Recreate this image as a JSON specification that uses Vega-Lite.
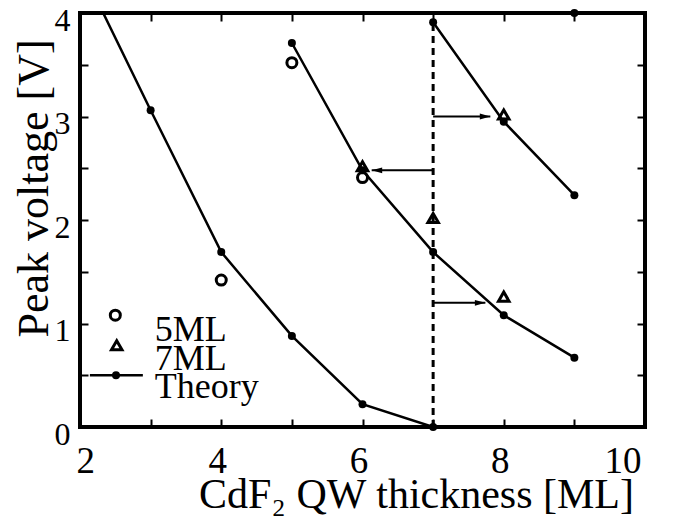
{
  "$schema": "https://vega.github.io/schema/vega-lite/v6.json",
  "width": 565,
  "height": 414,
  "autosize": {"type": "none"},
  "padding": {"left": 80, "top": 13, "right": 30, "bottom": 99},
  "background": "white",
  "config": {
    "font": "Liberation Serif",
    "view": {"stroke": "black", "strokeWidth": 4},
    "axis": {
      "domain": false,
      "grid": false,
      "tickColor": "black",
      "tickWidth": 2,
      "labelFont": "Liberation Serif",
      "labelColor": "black",
      "titleFont": "Liberation Serif",
      "titleFontWeight": "normal",
      "titleColor": "black"
    }
  },
  "datasets": {
    "theory": [
      {"curve": "A", "x": 2, "y": 4.46},
      {"curve": "A", "x": 3, "y": 3.06},
      {"curve": "A", "x": 4, "y": 1.69},
      {"curve": "A", "x": 5, "y": 0.88},
      {"curve": "A", "x": 6, "y": 0.22},
      {"curve": "A", "x": 7, "y": 0.0},
      {"curve": "B", "x": 5, "y": 3.71},
      {"curve": "B", "x": 6, "y": 2.48},
      {"curve": "B", "x": 7, "y": 1.69},
      {"curve": "B", "x": 8, "y": 1.08},
      {"curve": "B", "x": 9, "y": 0.67},
      {"curve": "C", "x": 7, "y": 3.91},
      {"curve": "C", "x": 8, "y": 2.95},
      {"curve": "C", "x": 9, "y": 2.24},
      {"curve": "D", "x": 9, "y": 4.0}
    ],
    "ml5": [
      {"x": 4, "y": 1.42},
      {"x": 5, "y": 3.52},
      {"x": 6, "y": 2.41}
    ],
    "ml7": [
      {"x": 6, "y": 2.52},
      {"x": 7, "y": 2.02},
      {"x": 8, "y": 3.02},
      {"x": 8, "y": 1.26}
    ],
    "arrows": [
      {"y": 2.48, "x": 7, "tip": 6.13, "dir": "L"},
      {"y": 3.0, "x": 7, "tip": 7.81, "dir": "R"},
      {"y": 1.2, "x": 7, "tip": 7.74, "dir": "R"}
    ],
    "marker": [{"x": 7, "y": 0, "y1": 3.91}]
  },
  "resolve": {"axis": {"x": "independent", "y": "independent"}},
  "layer": [
    {
      "layer": [
        {
          "data": {"name": "theory"},
          "transform": [{"filter": "datum.curve != 'D'"}],
          "mark": {"type": "line", "color": "black", "strokeWidth": 2.5, "clip": true},
          "encoding": {
            "x": {
              "field": "x", "type": "quantitative",
              "scale": {"domain": [2, 10], "nice": false, "zero": false},
              "axis": {
                "orient": "bottom",
                "values": [2, 4, 6, 8, 10],
                "format": "d",
                "ticks": false,
                "labelFontSize": 37,
                "labelPadding": 16,
                "labelOffset": -4,
                "title": "CdF₂ QW thickness [ML]",
                "titleFontSize": 42,
                "titleX": 336,
                "titleY": 80,
                "titleAlign": "center",
                "titleBaseline": "alphabetic"
              }
            },
            "y": {
              "field": "y", "type": "quantitative",
              "scale": {"domain": [0, 4], "nice": false, "zero": false},
              "axis": {
                "orient": "left",
                "values": [0, 1, 2, 3, 4],
                "format": "d",
                "ticks": false,
                "labelFontSize": 32,
                "labelPadding": 10,
                "labelOffset": 7,
                "labelBaseline": "middle",
                "title": "Peak voltage [V]",
                "titleFontSize": 44,
                "titleX": -33,
                "titleY": 175,
                "titleAngle": -90,
                "titleAlign": "center",
                "titleBaseline": "alphabetic"
              }
            },
            "detail": {"field": "curve"}
          }
        },
        {
          "data": {"name": "theory"},
          "mark": {"type": "point", "filled": true, "color": "black", "size": 64, "opacity": 1},
          "encoding": {
            "x": {"field": "x", "type": "quantitative"},
            "y": {"field": "y", "type": "quantitative"}
          }
        },
        {
          "data": {"name": "ml5"},
          "mark": {"type": "point", "shape": "circle", "filled": false, "color": "black", "strokeWidth": 3, "size": 100, "opacity": 1},
          "encoding": {
            "x": {"field": "x", "type": "quantitative"},
            "y": {"field": "y", "type": "quantitative"}
          }
        },
        {
          "data": {"name": "ml7"},
          "mark": {"type": "point", "shape": "triangle-up", "filled": false, "color": "black", "strokeWidth": 3, "size": 110, "opacity": 1},
          "encoding": {
            "x": {"field": "x", "type": "quantitative"},
            "y": {"field": "y", "type": "quantitative"}
          }
        },
        {
          "data": {"name": "arrows"},
          "mark": {"type": "rule", "color": "black", "strokeWidth": 2},
          "encoding": {
            "x": {"field": "x", "type": "quantitative"},
            "x2": {"field": "tip"},
            "y": {"field": "y", "type": "quantitative"}
          }
        },
        {
          "data": {"values": [{}]},
          "mark": {"type": "point", "shape": "circle", "filled": false, "color": "black", "strokeWidth": 3, "size": 100, "opacity": 1},
          "encoding": {
            "x": {"datum": 2.5, "type": "quantitative"},
            "y": {"datum": 1.08, "type": "quantitative"}
          }
        },
        {
          "data": {"values": [{}]},
          "mark": {"type": "point", "shape": "triangle-up", "filled": false, "color": "black", "strokeWidth": 3, "size": 110, "opacity": 1},
          "encoding": {
            "x": {"datum": 2.52, "type": "quantitative"},
            "y": {"datum": 0.79, "type": "quantitative"}
          }
        },
        {
          "data": {"values": [{}]},
          "mark": {"type": "rule", "color": "black", "strokeWidth": 2.5},
          "encoding": {
            "x": {"datum": 2.14, "type": "quantitative"},
            "x2": {"datum": 2.89},
            "y": {"datum": 0.5, "type": "quantitative"}
          }
        },
        {
          "data": {"values": [{}]},
          "mark": {"type": "point", "filled": true, "color": "black", "size": 64, "opacity": 1},
          "encoding": {
            "x": {"datum": 2.51, "type": "quantitative"},
            "y": {"datum": 0.5, "type": "quantitative"}
          }
        },
        {
          "data": {"values": [{}]},
          "mark": {"type": "text", "text": "5ML", "align": "left", "baseline": "alphabetic", "fontSize": 36, "color": "black"},
          "encoding": {
            "x": {"datum": 3.06, "type": "quantitative"},
            "y": {"datum": 0.83, "type": "quantitative"}
          }
        },
        {
          "data": {"values": [{}]},
          "mark": {"type": "text", "text": "7ML", "align": "left", "baseline": "alphabetic", "fontSize": 36, "color": "black"},
          "encoding": {
            "x": {"datum": 3.06, "type": "quantitative"},
            "y": {"datum": 0.55, "type": "quantitative"}
          }
        },
        {
          "data": {"values": [{}]},
          "mark": {"type": "text", "text": "Theory", "align": "left", "baseline": "alphabetic", "fontSize": 36, "color": "black"},
          "encoding": {
            "x": {"datum": 3.06, "type": "quantitative"},
            "y": {"datum": 0.28, "type": "quantitative"}
          }
        }
      ]
    },
    {
      "data": {"name": "marker"},
      "mark": {"type": "rule", "color": "black", "strokeWidth": 3, "strokeDash": [7, 5]},
      "encoding": {
        "x": {
          "field": "x", "type": "quantitative",
          "scale": {"domain": [2, 10], "nice": false, "zero": false},
          "axis": {"orient": "bottom", "values": [2, 3, 4, 5, 6, 7, 8, 9, 10], "labels": false, "tickSize": -8, "title": null}
        },
        "y": {
          "field": "y", "type": "quantitative",
          "scale": {"domain": [0, 4], "nice": false, "zero": false},
          "axis": {"orient": "left", "values": [0, 0.5, 1, 1.5, 2, 2.5, 3, 3.5, 4], "labels": false, "tickSize": -8, "title": null}
        },
        "y2": {"field": "y1"}
      }
    },
    {
      "data": {"name": "arrows"},
      "mark": {"type": "point", "filled": true, "color": "black", "size": 110, "opacity": 1},
      "encoding": {
        "x": {
          "field": "tip", "type": "quantitative",
          "scale": {"domain": [2, 10], "nice": false, "zero": false},
          "axis": {"orient": "top", "values": [2, 3, 4, 5, 6, 7, 8, 9, 10], "labels": false, "tickSize": -8, "title": null}
        },
        "y": {
          "field": "y", "type": "quantitative",
          "scale": {"domain": [0, 4], "nice": false, "zero": false},
          "axis": {"orient": "right", "values": [0, 0.5, 1, 1.5, 2, 2.5, 3, 3.5, 4], "labels": false, "tickSize": -8, "title": null}
        },
        "shape": {
          "field": "dir", "type": "nominal",
          "scale": {"domain": ["L", "R"], "range": ["M0,0L2,-0.55L2,0.55Z", "M0,0L-2,-0.55L-2,0.55Z"]},
          "legend": null
        }
      }
    }
  ]
}
